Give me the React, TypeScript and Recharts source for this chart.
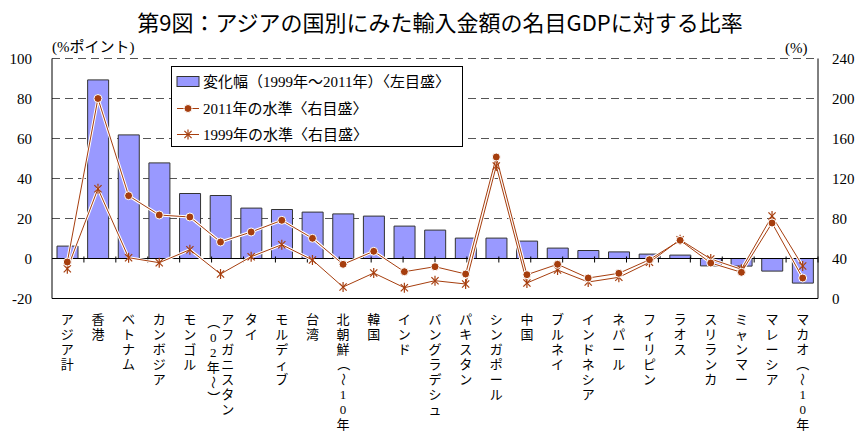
import React from "react";
import { ComposedChart, Bar, Line, XAxis, YAxis, CartesianGrid, ReferenceLine } from "recharts";

// 国名（"|" で縦書きの列を分ける）
const countries = [
  "アジア計", "香港", "ベトナム", "カンボジア", "モンゴル", "アフガニスタン|（02年～）",
  "タイ", "モルディブ", "台湾", "北朝鮮（～10年）", "韓国", "インド", "バングラデシュ",
  "パキスタン", "シンガポール", "中国", "ブルネイ", "インドネシア", "ネパール", "フィリピン",
  "ラオス", "スリランカ", "ミャンマー", "マレーシア", "マカオ（～10年）",
];
// 変化幅（%ポイント, 左目盛）
const change = [6.2, 89.3, 61.8, 47.8, 32.5, 31.5, 25.2, 24.5, 23.2, 22.3, 21.2, 16.2, 14.2, 10.2, 10.2, 8.7, 5.2, 4.0, 3.3, 2.2, 1.7, -3.7, -3.8, -6.3, -12.3];
// 2011年の水準（%, 右目盛）
const level2011 = [36.5, 200, 102.8, 83.5, 81.5, 56.5, 66.5, 78.2, 60.2, 34.2, 47.2, 26.8, 31.8, 24.5, 141.5, 23.8, 34.2, 20.5, 25.2, 38.8, 58.2, 35.5, 26.2, 75.5, 20.5];
// 1999年の水準（%, 右目盛）
const level1999 = [29.8, 109.8, 40.8, 35.8, 48.8, 24.5, 41.8, 53.8, 38.5, 11.5, 25.5, 10.8, 17.8, 14.5, 132.5, 15.5, 28.5, 16.5, 21.2, 36.2, 58.8, 39.5, 29.2, 82.5, 32.5];

const leftTicks = [-20, 0, 20, 40, 60, 80, 100];
const rightTicks = [0, 40, 80, 120, 160, 200, 240];

const data = countries.map((name, i) => ({
  name,
  change: change[i],
  y2011: level2011[i],
  y1999: level1999[i],
}));

const LINE = "#A63E0E";
const BAR = "#9999FF";
const FONT = "'Liberation Serif', 'Noto Sans CJK JP', serif";
const rotated = "（）～";

function CountryTick({ x, y, payload }: any) {
  const cols = String(payload.value).split("|");
  const colW = 14.5;
  return (
    <g>
      {cols.map((col, c) => {
        const cx = x + ((cols.length - 1) / 2 - c) * colW;
        return Array.from(col).map((ch, k) => {
          const cy = y + 19 + k * 15 + (c > 0 ? 3 : 0);
          return (
            <text
              key={c + "-" + k}
              x={cx}
              y={cy}
              textAnchor="middle"
              dominantBaseline="central"
              fontSize={13}
              fontFamily={FONT}
              fill="#000"
              transform={rotated.includes(ch) ? `rotate(90 ${cx} ${cy})` : undefined}
            >
              {ch}
            </text>
          );
        });
      })}
    </g>
  );
}

function LeftTick({ x, y, payload }: any) {
  return (
    <text x={x - 18} y={y} textAnchor="end" dominantBaseline="central" fontSize={15} fontFamily={FONT} fill="#000">
      {payload.value}
    </text>
  );
}

function RightTick({ x, y, payload }: any) {
  return (
    <text x={x + 12} y={y} textAnchor="start" dominantBaseline="central" fontSize={15} fontFamily={FONT} fill="#000">
      {payload.value}
    </text>
  );
}

function Dot({ cx, cy }: any) {
  if (cx == null || cy == null) return null;
  return <circle cx={cx} cy={cy} r={4} fill={LINE} stroke="#fff" strokeWidth={1} />;
}

function Star({ cx, cy }: any) {
  if (cx == null || cy == null) return null;
  const r = 5, d = 3.6;
  return (
    <g stroke={LINE} strokeWidth={1.2}>
      <line x1={cx} y1={cy - r} x2={cx} y2={cy + r} />
      <line x1={cx - d} y1={cy - d} x2={cx + d} y2={cy + d} />
      <line x1={cx - d} y1={cy + d} x2={cx + d} y2={cy - d} />
    </g>
  );
}

function LegendBox() {
  const rows = [15.5, 42.5, 68.5];
  return (
    <svg width={292} height={81} style={{ position: "absolute", left: 171, top: 66 }}>
      <rect x={0.5} y={0.5} width={291} height={80} fill="#fff" stroke="#000" />
      <rect x={6} y={rows[0] - 5} width={22} height={10} fill={BAR} stroke="#333" />
      <text x={32} y={rows[0]} dominantBaseline="central" fontSize={15} fontFamily={FONT}>変化幅（1999年～2011年）〈左目盛〉</text>
      <line x1={6} x2={28} y1={rows[1]} y2={rows[1]} stroke={LINE} />
      <Dot cx={17} cy={rows[1]} />
      <text x={32} y={rows[1]} dominantBaseline="central" fontSize={15} fontFamily={FONT}>2011年の水準〈右目盛〉</text>
      <line x1={6} x2={28} y1={rows[2]} y2={rows[2]} stroke={LINE} />
      <Star cx={17} cy={rows[2]} />
      <text x={32} y={rows[2]} dominantBaseline="central" fontSize={15} fontFamily={FONT}>1999年の水準〈右目盛〉</text>
    </svg>
  );
}

export default function App() {
  return (
    <div style={{ position: "absolute", left: 0, top: 0, width: 857, height: 432, background: "#fff" }}>
      <div style={{ position: "absolute", left: 0, top: 6, width: 880, textAlign: "center", fontFamily: "'Noto Sans CJK JP', sans-serif", fontSize: 22, fontWeight: 400, lineHeight: "30px" }}>
        第9図：アジアの国別にみた輸入金額の名目GDPに対する比率
      </div>
      <div style={{ position: "absolute", left: 52, top: 38, fontFamily: FONT, fontSize: 15, lineHeight: "18px" }}>(%ポイント)</div>
      <div style={{ position: "absolute", left: 785, top: 39, fontFamily: FONT, fontSize: 15, lineHeight: "18px" }}>(%)</div>
      <ComposedChart width={857} height={432} data={data} margin={{ top: 58.5, right: 0, bottom: 0, left: 0 }}>
        <CartesianGrid yAxisId="left" vertical={false} stroke="#555" strokeDasharray="8 5" />
        <XAxis
          dataKey="name"
          interval={0}
          height={133.5}
          tick={<CountryTick />}
          tickLine={false}
          tickSize={0}
          axisLine={{ stroke: "#000" }}
        />
        <XAxis xAxisId="n" type="number" domain={[0, countries.length]} hide allowDataOverflow />
        <YAxis
          yAxisId="left"
          domain={[-20, 100]}
          ticks={leftTicks}
          interval={0}
          width={52}
          tickLine={false}
          tickSize={0}
          axisLine={{ stroke: "#000" }}
          tick={<LeftTick />}
        />
        <YAxis
          yAxisId="right"
          orientation="right"
          domain={[0, 240]}
          ticks={rightTicks}
          interval={0}
          width={39}
          tickLine={false}
          tickSize={0}
          axisLine={{ stroke: "#000" }}
          tick={<RightTick />}
        />
        <Bar yAxisId="left" dataKey="change" fill={BAR} stroke="#333" barSize={21} isAnimationActive={false} />
        <ReferenceLine yAxisId="left" y={0} stroke="#000" />
        {countries.slice(1).map((_, i) => (
          <ReferenceLine
            key={i}
            xAxisId="n"
            yAxisId="left"
            segment={[{ x: i + 1, y: 1 }, { x: i + 1, y: -2 }]}
            stroke="#000"
          />
        ))}
        <Line yAxisId="right" dataKey="y1999" stroke="#fff" strokeWidth={3} dot={false} isAnimationActive={false} />
        <Line yAxisId="right" dataKey="y2011" stroke="#fff" strokeWidth={3} dot={false} isAnimationActive={false} />
        <Line yAxisId="right" dataKey="y1999" stroke={LINE} strokeWidth={1} dot={(p: any) => <Star key={p.index} {...p} />} isAnimationActive={false} />
        <Line yAxisId="right" dataKey="y2011" stroke={LINE} strokeWidth={1} dot={(p: any) => <Dot key={p.index} {...p} />} isAnimationActive={false} />
      </ComposedChart>
      <LegendBox />
    </div>
  );
}
